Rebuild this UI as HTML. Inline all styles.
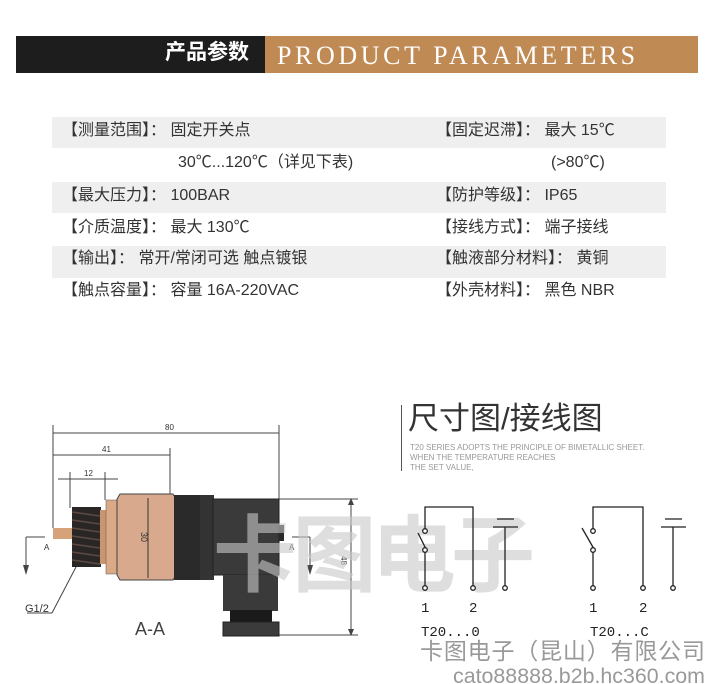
<!DOCTYPE html>
<html><head><meta charset="utf-8"><style>
body{margin:0;width:713px;height:684px;background:#fff;overflow:hidden;position:relative;font-family:"Liberation Sans","Noto Sans CJK SC",sans-serif;}
.a{position:absolute;white-space:nowrap}
.row{position:absolute;left:52px;width:614px;background:#efefef}
.t{font-size:16px;color:#333;line-height:20px}
</style></head><body>
<div class="a" style="left:16px;top:36px;width:249px;height:37px;background:#1d1d1d"></div>
<div class="a" style="left:265px;top:36px;width:433px;height:37px;background:#c08a55"></div>
<div class="a" style="left:165px;top:41px;font-size:21px;color:#fff;font-weight:bold;line-height:24px">产品参数</div>
<div class="a" style="left:277px;top:41px;font-size:26px;color:#fff;font-family:'Liberation Serif',serif;letter-spacing:3.6px;line-height:30px">PRODUCT PARAMETERS</div>

<div class="row" style="top:117px;height:31px"></div>
<div class="row" style="top:182px;height:31px"></div>
<div class="row" style="top:246px;height:32px"></div>

<div class="a t" style="left:62px;top:121px">【测量范围】：&nbsp;固定开关点</div>
<div class="a t" style="left:178px;top:153px">30℃...120℃（详见下表)</div>
<div class="a t" style="left:62px;top:186px">【最大压力】：&nbsp;100BAR</div>
<div class="a t" style="left:62px;top:218px">【介质温度】：&nbsp;最大 130℃</div>
<div class="a t" style="left:62px;top:249px">【输出】：&nbsp;常开/常闭可选 触点镀银</div>
<div class="a t" style="left:62px;top:281px">【触点容量】：&nbsp;容量 16A-220VAC</div>
<div class="a t" style="left:436px;top:121px">【固定迟滞】：&nbsp;最大 15℃</div>
<div class="a t" style="left:551px;top:153px">(&gt;80℃)</div>
<div class="a t" style="left:436px;top:186px">【防护等级】：&nbsp;IP65</div>
<div class="a t" style="left:436px;top:218px">【接线方式】：&nbsp;端子接线</div>
<div class="a t" style="left:436px;top:249px">【触液部分材料】：&nbsp;黄铜</div>
<div class="a t" style="left:436px;top:281px">【外壳材料】：&nbsp;黑色 NBR</div>

<div class="a" style="left:401px;top:405px;width:1px;height:66px;background:#555"></div>
<div class="a" style="left:408px;top:401px;font-size:31px;color:#333;line-height:36px">尺寸图/接线图</div>
<div class="a" style="left:410px;top:443px;font-size:8px;color:#999;line-height:10px">T20 SERIES ADOPTS THE PRINCIPLE OF BIMETALLIC SHEET.<br>WHEN THE TEMPERATURE REACHES<br>THE SET VALUE,</div>

<svg class="a" style="left:0;top:0" width="713" height="684" viewBox="0 0 713 684">
<g stroke="#444" stroke-width="1" fill="none">
<line x1="53" y1="433" x2="279" y2="433"/><line x1="53" y1="425" x2="53" y2="528"/><line x1="279" y1="425" x2="279" y2="499"/>
<line x1="53" y1="455" x2="170" y2="455"/><line x1="170" y1="448" x2="170" y2="495"/>
<line x1="58" y1="479" x2="118" y2="479"/><line x1="70" y1="472" x2="70" y2="508"/><line x1="105" y1="472" x2="105" y2="500"/>
<line x1="279" y1="499" x2="358" y2="499"/><line x1="279" y1="635" x2="358" y2="635"/><line x1="351" y1="499" x2="351" y2="635"/>
<line x1="26" y1="537" x2="45" y2="537"/><line x1="26" y1="537" x2="26" y2="570"/>
<line x1="292" y1="537" x2="310" y2="537"/><line x1="310" y1="537" x2="310" y2="570"/>
<line x1="27" y1="613" x2="52" y2="613"/><line x1="52" y1="613" x2="76" y2="567"/>
</g>
<g fill="#444"><path d="M23 565l3 10 3-10z"/><path d="M307 565l3 10 3-10z"/><path d="M348 505l3-7 3 7z"/><path d="M348 629l3 7 3-7z"/></g>
<rect x="53" y="528" width="20" height="11" fill="#d6a27a"/>
<rect x="72" y="507" width="29" height="60" fill="#2b2626"/>
<g stroke="#5a4a40" stroke-width="1.5"><line x1="72" y1="512" x2="100" y2="516"/><line x1="72" y1="520" x2="100" y2="524"/><line x1="72" y1="528" x2="100" y2="532"/><line x1="72" y1="536" x2="100" y2="540"/><line x1="72" y1="544" x2="100" y2="548"/><line x1="72" y1="552" x2="100" y2="556"/><line x1="72" y1="560" x2="100" y2="564"/></g>
<rect x="100" y="510" width="6" height="54" fill="#c99670"/>
<rect x="106" y="500" width="12" height="74" fill="#d9aa85" stroke="#555" stroke-width="0.5"/>
<path d="M120 494h53l3 5v76l-3 5h-53l-3-5v-76z" fill="#d8a98c" stroke="#444"/>
<line x1="148" y1="498" x2="148" y2="578" stroke="#333"/>
<text x="0" y="0" font-size="9" fill="#333" transform="translate(141,532) rotate(90)">30</text>
<rect x="174" y="495" width="40" height="85" fill="#2a2a2a"/>
<rect x="200" y="495" width="14" height="85" fill="#333"/>
<rect x="213" y="499" width="66" height="76" fill="#3a3a3a" stroke="#222"/>
<rect x="279" y="525" width="5" height="16" fill="#2a2a2a"/>
<rect x="223" y="575" width="55" height="36" fill="#3a3a3a"/>
<rect x="230" y="610" width="42" height="12" fill="#1a1a1a"/>
<rect x="223" y="622" width="56" height="14" fill="#3b3b3b" stroke="#222"/>
<g font-size="8" fill="#333" font-family="Liberation Sans"><text x="165" y="430">80</text><text x="102" y="452">41</text><text x="84" y="476">12</text><text x="44" y="550">A</text><text x="289" y="550">A</text><text x="337" y="560" transform="rotate(90 341 560)">48</text></g>
<text x="25" y="612" font-size="11" fill="#333">G1/2</text>
<text x="135" y="635" font-size="18" fill="#444">A-A</text>
<text x="213" y="585" font-size="84" font-weight="bold" fill="#c8c8c8" fill-opacity="0.6" font-family="Noto Sans CJK SC" textLength="322" lengthAdjust="spacing">卡图电子</text>
<g stroke="#222" stroke-width="1.3" fill="#fff">
<polyline points="425,531 425,507 473,507 473,588" fill="none"/>
<line x1="425" y1="550" x2="425" y2="588"/><line x1="418" y1="533" x2="426" y2="549"/>
<line x1="505" y1="527" x2="505" y2="588"/><line x1="497" y1="519" x2="514" y2="519"/><line x1="493" y1="527" x2="518" y2="527"/>
<circle cx="425" cy="531" r="2.3"/><circle cx="425" cy="550" r="2.3"/><circle cx="425" cy="588" r="2.3"/><circle cx="473" cy="588" r="2.3"/><circle cx="505" cy="588" r="2.3"/>
<polyline points="593,531 593,507 643,507 643,588" fill="none"/>
<line x1="593" y1="550" x2="593" y2="588"/><line x1="582" y1="528" x2="594" y2="549"/>
<line x1="673" y1="527" x2="673" y2="588"/><line x1="665" y1="519" x2="682" y2="519"/><line x1="661" y1="527" x2="686" y2="527"/>
<circle cx="593" cy="531" r="2.3"/><circle cx="593" cy="550" r="2.3"/><circle cx="593" cy="588" r="2.3"/><circle cx="643" cy="588" r="2.3"/><circle cx="673" cy="588" r="2.3"/>
</g>
<g font-size="14" fill="#222" font-family="Liberation Mono"><text x="421" y="612">1</text><text x="469" y="612">2</text><text x="589" y="612">1</text><text x="639" y="612">2</text>
<text x="421" y="636">T20...0</text><text x="590" y="636">T20...C</text></g>
<text x="420" y="659" font-size="23" fill="#999" textLength="285" lengthAdjust="spacing">卡图电子（昆山）有限公司</text>
<text x="453" y="683" font-size="21" fill="#999" textLength="252" lengthAdjust="spacingAndGlyphs">cato88888.b2b.hc360.com</text>
</svg>
</body></html>
